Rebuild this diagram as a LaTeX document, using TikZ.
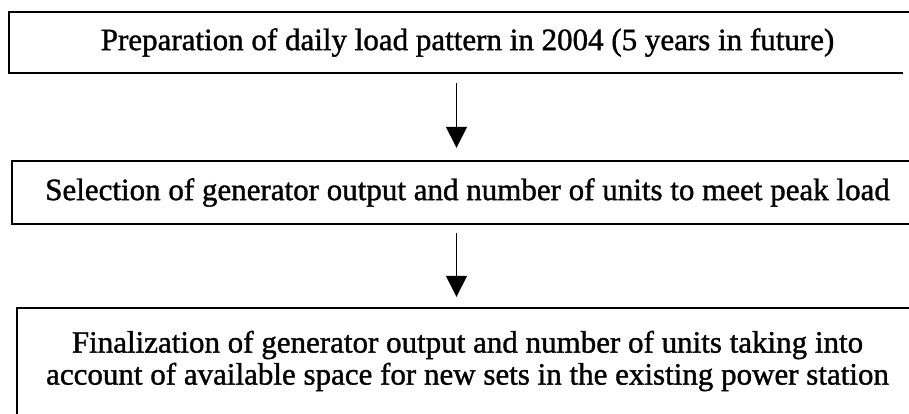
\documentclass[tikz,border=0pt]{standalone}
\usepackage{fontspec}
\setmainfont{Liberation Serif}[RawFeature={embolden=1.2}]
\usetikzlibrary{arrows.meta}
\begin{document}
\begin{tikzpicture}[x=1pt,y=-1pt,
  stagebox/.style={inner sep=0pt, align=center,
    font=\fontsize{31}{32}\selectfont},
  frameline/.style={line width=1.8pt},
  flowarrow/.style={line width=1.5pt, -{Triangle[width=21pt,length=21pt]}}]
  \useasboundingbox (0,0) rectangle (909,413);
  \clip (0,0) rectangle (909,413);
  \coordinate (edge) at (909,0);
  \coordinate (floor) at (0,414);
  % process stages
  \node[stagebox, minimum width=917pt, minimum height=61pt] (box1) at (467.5,42.5)
    {Preparation of daily load pattern in 2004 (5 years in future)};
  \node[stagebox, minimum width=911pt, minimum height=63pt] (box2) at (467.5,192.5)
    {Selection of generator output and number of units to meet peak load};
  \node[stagebox, minimum width=901pt, minimum height=106pt] (box3) at (467.5,361)
    {Finalization of generator output and number of units taking into\\
     account of available space for new sets in the existing power station};
  % frames, open where they run off the page
  \draw[frameline] (box1.north west -| edge) -- (box1.north west)
    -- (box1.south west) -- ([xshift=-6pt]box1.south west -| edge);
  \draw[frameline] (box2.north west -| edge) -- (box2.north west)
    -- (box2.south west) -- (box2.south west -| edge);
  \draw[frameline] (box3.north west -| edge) -- (box3.north west)
    -- (box3.north west |- floor);
  % flow between stages
  \draw[flowarrow, shorten <=10pt, shorten >=13pt]
    ([xshift=-11pt]box1.south) -- ([xshift=-11pt]box2.north);
  \draw[flowarrow, shorten <=9pt, shorten >=11pt]
    ([xshift=-11pt]box2.south) -- ([xshift=-11pt]box3.north);
\end{tikzpicture}
\end{document}
